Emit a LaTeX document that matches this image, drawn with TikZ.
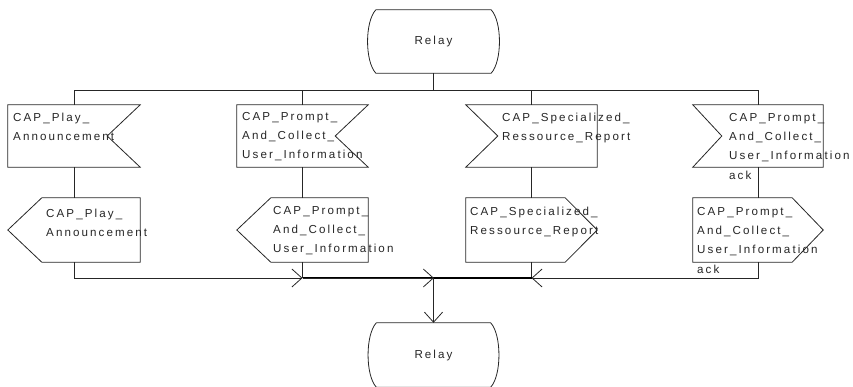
\documentclass[tikz,border=0pt]{standalone}
\usepackage{fontspec}
\setmainfont{Liberation Sans}[LetterSpace=18]
\usetikzlibrary{arrows.meta}
\begin{document}
\begin{tikzpicture}[x=1pt,y=-1pt,
  sym/.style={draw=none,inner sep=0pt,minimum height=#1},
  ln/.style={draw=black!85,line width=0.8pt},
  bold/.style={draw=black,line width=1.6pt},
  arr/.style={-{Straight Barb[length=10pt,width=18pt,line width=0.8pt]}},
  lbl/.style={inner sep=0pt,anchor=north west,align=left,text=black!85,
    font=\fontsize{11.6}{19.3}\selectfont},
  rl/.style={inner sep=0pt,text=black!85,font=\fontsize{11.6}{13}\selectfont}]
\useasboundingbox (0,0) rectangle (853,386);
% relay states
\node[sym=63pt,minimum width=115pt] (r1) at (433.5,41.5) {};
\node[sym=64pt,minimum width=114pt] (r2) at (433.5,355) {};
\draw[ln] (r1.north west) -- (r1.north east)
  .. controls ([xshift=11pt,yshift=-12pt]r1.north east) and ([xshift=11pt,yshift=12pt]r1.south east) .. (r1.south east)
  -- (r1.south west)
  .. controls ([xshift=-11pt,yshift=12pt]r1.south west) and ([xshift=-11pt,yshift=-12pt]r1.north west) .. (r1.north west);
\draw[ln] (r2.north west) -- (r2.north east)
  .. controls ([xshift=11pt,yshift=-12pt]r2.north east) and ([xshift=11pt,yshift=12pt]r2.south east) .. (r2.south east)
  -- (r2.south west)
  .. controls ([xshift=-11pt,yshift=12pt]r2.south west) and ([xshift=-11pt,yshift=-12pt]r2.north west) .. (r2.north west);
\node[rl] (r1t) at (r1) {Relay};
\node[rl] (r2t) at (r2) {Relay};
% input symbols
\node[sym=62pt,minimum width=132pt] (in1) at (74,136) {};
\node[sym=62pt,minimum width=131pt] (in2) at (302.5,136) {};
\node[sym=62pt,minimum width=131pt] (in3) at (531.5,136) {};
\node[sym=62pt,minimum width=130pt] (in4) at (758,136) {};
\draw[ln] (in1.north west) -- (in1.north east) -- ([xshift=-33pt]in1.east) -- (in1.south east) -- (in1.south west) -- cycle;
\draw[ln] (in2.north west) -- (in2.north east) -- ([xshift=-33pt]in2.east) -- (in2.south east) -- (in2.south west) -- cycle;
\draw[ln] (in3.north west) -- (in3.north east) -- (in3.south east) -- (in3.south west) -- ([xshift=32pt]in3.west) -- cycle;
\draw[ln] (in4.north west) -- (in4.north east) -- (in4.south east) -- (in4.south west) -- ([xshift=29pt]in4.west) -- cycle;
% output symbols
\node[sym=64pt,minimum width=132pt] (out1) at (74,230) {};
\node[sym=64pt,minimum width=131pt] (out2) at (302.5,230) {};
\node[sym=64pt,minimum width=131pt] (out3) at (531.5,230) {};
\node[sym=64pt,minimum width=130pt] (out4) at (758,230) {};
\draw[ln] (out1.west) -- ([xshift=34pt]out1.north west) -- (out1.north east) -- (out1.south east) -- ([xshift=34pt]out1.south west) -- cycle;
\draw[ln] (out2.west) -- ([xshift=34pt]out2.north west) -- (out2.north east) -- (out2.south east) -- ([xshift=34pt]out2.south west) -- cycle;
\draw[ln] (out3.north west) -- ([xshift=-32pt]out3.north east) -- (out3.east) -- ([xshift=-32pt]out3.south east) -- (out3.south west) -- cycle;
\draw[ln] (out4.north west) -- ([xshift=-31pt]out4.north east) -- (out4.east) -- ([xshift=-31pt]out4.south east) -- (out4.south west) -- cycle;
% texts
\node[lbl] (t1) at (13,113) {CAP\_Play\_\\Announcement};
\node[lbl] (t2) at (242,112) {CAP\_Prompt\_\\And\_Collect\_\\User\_Information};
\node[lbl] (t3) at (502,113) {CAP\_Specialized\_\\Ressource\_Report};
\node[lbl] (t4) at (729,113) {CAP\_Prompt\_\\And\_Collect\_\\User\_Information\\ack};
\node[lbl] (u1) at (46,209) {CAP\_Play\_\\Announcement};
\node[lbl] (u2) at (273,206) {CAP\_Prompt\_\\And\_Collect\_\\User\_Information};
\node[lbl] (u3) at (470,207) {CAP\_Specialized\_\\Ressource\_Report};
\node[lbl] (u4) at (697,207) {CAP\_Prompt\_\\And\_Collect\_\\User\_Information\\ack};
% connectors
\coordinate (top) at (433.5,90);
\coordinate (bot) at (433.5,278);
\draw[ln] (r1.south) -- (top);
\draw[ln] (in1.north |- top) -- (in4.north |- top);
\draw[ln] (in1.north |- top) -- (in1.north);
\draw[ln] (in2.north |- top) -- (in2.north);
\draw[ln] (in3.north |- top) -- (in3.north);
\draw[ln] (in4.north |- top) -- (in4.north);
\draw[ln] (in1.south) -- (out1.north);
\draw[ln] (in2.south) -- (out2.north);
\draw[ln] (in3.south) -- (out3.north);
\draw[ln] (in4.south) -- (out4.north);
\draw[ln] (out2.south) -- (out2.south |- bot);
\draw[ln] (out3.south) -- (out3.south |- bot);
\draw[ln,arr] (out1.south) |- (out2.south |- bot);
\draw[ln,arr] (out4.south) |- (out3.south |- bot);
\draw[bold] (out2.south |- bot) -- (out3.south |- bot);
\draw[ln,arr,shorten >=-0.4pt] (out2.south |- bot) -- (bot);
\draw[ln,arr] (bot) -- (r2.north);
\end{tikzpicture}
\end{document}
